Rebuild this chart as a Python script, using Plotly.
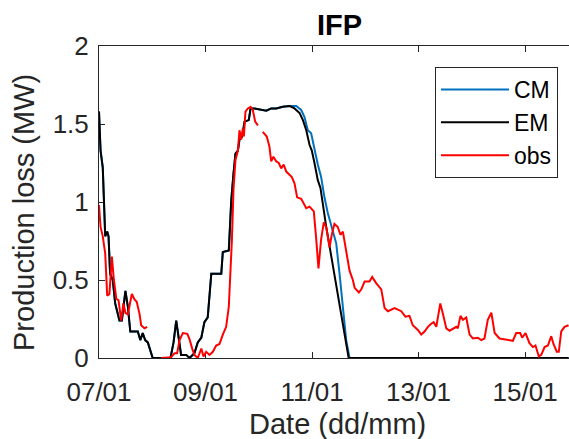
import plotly.graph_objects as go
import pandas as pd

BASE = pd.Timestamp("2018-01-07 00:00")

# hours since 07/01 00:00, production loss in MW
EM_HOURS = [0, 0.7, 1.7, 2.8, 3.7, 4.3, 5.0, 6.2, 7.3, 8.5, 9.2, 10.3, 11.9, 13.0, 14.1,
            17.5, 18.6, 19.7, 20.8, 22.0, 23.2, 24.2, 32.2, 33.6, 34.8, 35.8, 37.0, 39.3,
            40.8, 43.0, 44.5, 46.1, 47.5, 49.0, 49.8, 50.6, 55.1, 55.8, 58.5, 59.6, 60.6,
            61.5, 62.6, 63.3, 64.5, 65.6, 67.5, 68.3, 70.1, 72.3, 75.4, 77.6, 79.9, 82.8,
            85.9, 88.1, 90.4, 91.9, 93.4, 94.9, 95.9, 97.1, 98.6, 99.8, 100.9, 102.4,
            104.7, 106.9, 109.2, 111.4, 112.5, 211.6]
EM_MW = [1.58, 1.33, 1.22, 0.78, 0.81, 0.78, 0.54, 0.50, 0.35, 0.29, 0.24, 0.24, 0.43, 0.33,
         0.17, 0.17, 0.115, 0.16, 0.115, 0.10, 0.05, 0, 0, 0.10, 0.24, 0.14, 0.02, 0.02,
         0, 0.03, 0.10, 0.13, 0.23, 0.26, 0.41, 0.54, 0.54, 0.68, 0.69, 1.01, 1.18,
         1.31, 1.33, 1.40, 1.42, 1.515, 1.525, 1.60, 1.60, 1.595, 1.585, 1.60, 1.60, 1.61,
         1.615, 1.60, 1.57, 1.525, 1.46, 1.365, 1.33, 1.25, 1.14, 1.09, 0.98, 0.84,
         0.65, 0.46, 0.265, 0.07, 0, 0]

CM_HOURS = [0, 0.7, 1.7, 2.8, 3.7, 4.3, 5.0, 6.2, 7.3, 8.5, 9.2, 10.3, 11.9, 13.0, 14.1,
            17.5, 18.6, 19.7, 20.8, 22.0, 23.2, 24.2, 32.2, 33.6, 34.8, 35.8, 37.0, 39.3,
            40.8, 43.0, 44.5, 46.1, 47.5, 49.0, 49.8, 50.6, 55.1, 55.8, 58.5, 59.6, 60.6,
            61.5, 62.6, 63.3, 64.5, 65.6, 67.5, 68.3, 70.1, 72.3, 75.4, 77.6, 79.9, 82.8,
            85.9, 88.9, 91.1, 92.6, 94.1, 95.6, 97.1, 98.6, 100.1, 101.6, 103.1, 105.4,
            106.9, 108.4, 109.9, 111.4, 112.9, 211.6]
CM_MW = [1.58, 1.33, 1.22, 0.78, 0.81, 0.78, 0.54, 0.50, 0.35, 0.29, 0.24, 0.24, 0.43, 0.33,
         0.17, 0.17, 0.115, 0.16, 0.115, 0.10, 0.05, 0, 0, 0.10, 0.24, 0.14, 0.02, 0.02,
         0, 0.03, 0.10, 0.13, 0.23, 0.26, 0.41, 0.54, 0.54, 0.68, 0.69, 1.01, 1.18,
         1.31, 1.33, 1.40, 1.42, 1.515, 1.525, 1.60, 1.60, 1.595, 1.585, 1.60, 1.60, 1.61,
         1.615, 1.615, 1.59, 1.545, 1.46, 1.44, 1.33, 1.24, 1.16, 1.03, 0.93, 0.82,
         0.735, 0.54, 0.33, 0.115, 0, 0]

OBS_HOURS = [0, 0.7, 1.7, 2.8, 3.7, 4.7, 5.8, 6.7, 7.8, 8.8, 10.0, 11.0, 11.9, 13.0, 14.8,
             16.0, 17.0, 18.3, 19.0, 20.5, 21.7, 24.8,
             28.0, 32.5, 34.0, 35.2, 36.3, 37.8, 39.8, 40.8, 42.0, 43.0, 44.5, 46.1, 47.1,
             48.3, 49.8, 51.3, 52.8, 54.3, 55.8, 57.3, 58.5, 59.1, 59.9, 60.6, 61.5, 62.6,
             63.3, 64.1, 64.8, 65.3, 66.0, 67.1, 68.3, 69.3, 70.4, 71.6, 72.7,
             73.8, 75.6, 76.8, 77.6, 78.6, 79.9, 81.0, 82.1, 83.2, 84.4, 85.5, 86.9, 88.1,
             89.3, 91.1, 92.3, 93.4, 94.9, 96.8, 97.9, 98.9, 100.1, 101.3, 102.4, 103.9,
             104.9, 106.1, 107.6, 108.8, 109.9, 111.4, 112.9, 114.4, 115.2, 117.1, 118.2,
             119.7, 121.9, 123.1, 124.9, 127.2, 128.7, 130.2, 133.2, 136.2, 138.1, 139.9,
             141.4, 143.7, 145.2, 146.7, 148.2, 149.7, 150.8, 152.0, 153.8, 155.3, 156.5,
             158.0, 159.5, 161.0, 161.7, 162.9, 164.0, 165.5, 167.0, 168.5, 170.7, 172.3,
             173.7, 175.2, 176.8, 178.3, 180.5, 182.8, 186.5, 188.0, 189.8, 190.7, 192.2,
             194.0, 195.5, 196.7, 198.2, 199.3, 200.8, 202.3, 203.8, 204.8, 206.3, 207.2,
             208.3, 209.8, 211.6]
OBS_MW = [0.98, 0.84, 0.78, 0.67, 0.40, 0.41, 0.65, 0.50, 0.38, 0.37, 0.24, 0.35, 0.29, 0.28,
          0.41, 0.375, 0.36, 0.28, 0.21, 0.19, 0.20, None,
          0, 0.005, 0.03, 0.03, 0.115, 0.16, 0.155, 0.12, 0.06, 0.02, 0.0, 0.06, 0.01,
          0.04, 0.02, 0.04, 0.08, 0.09, 0.15, 0.20, 0.33, 0.50, 0.76, 1.08, 1.27, 1.33,
          1.46, 1.40, 1.47, 1.42, 1.58, 1.60, 1.61, 1.59, 1.515, 1.49, None,
          1.45, 1.42, 1.355, 1.26, 1.29, 1.26, 1.25, 1.215, 1.24, 1.195, 1.18, 1.16, 1.12,
          1.03, 1.02, 0.99, 0.96, 0.97, 0.94, 0.76, 0.575, 0.76, 0.87, 0.84, 0.71,
          0.79, 0.86, 0.84, 0.79, 0.81, 0.67, 0.56, 0.50, 0.45, 0.42, 0.44,
          0.49, 0.49, 0.52, 0.48, 0.44, 0.32, 0.30, 0.32, 0.30, 0.265, 0.27,
          0.21, 0.18, 0.15, 0.17, 0.20, 0.22, 0.23, 0.20, 0.35, 0.265, 0.19,
          0.175, 0.19, 0.20, 0.19, 0.27, 0.245, 0.26, 0.15, 0.125, 0.13, 0.115,
          0.125, 0.245, 0.29, 0.16, 0.125, 0.12, 0.11, 0.16, 0.16, 0.13, 0.16,
          0.095, 0.07, 0.08, 0.01, 0.02, 0.07, 0.08, 0.14, 0.09, 0.04, 0.04,
          0.17, 0.20, 0.21]

X_TICK_DATES = ["2018-01-07", "2018-01-09", "2018-01-11", "2018-01-13", "2018-01-15"]
X_TICK_LABELS = ["07/01", "09/01", "11/01", "13/01", "15/01"]
Y_TICKS = [0, 0.5, 1, 1.5, 2]
Y_TICK_LABELS = ["0", "0.5", "1", "1.5", "2"]
X_END_HOURS = 211.8


def to_dates(hours):
    return [BASE + pd.Timedelta(hours=h) for h in hours]


FONT = "Liberation Sans, Arial, Helvetica, sans-serif"
AXC = "#262626"

# plot area in pixels: left 99, right 569, top 46, bottom 358
PL, PR, PT, PB = 99, 569, 46, 358


def px_x(x):
    return (x - PL) / (PR - PL)


def px_y(y):
    return (PB - y) / (PB - PT)


fig = go.Figure()
fig.add_trace(go.Scatter(x=to_dates(CM_HOURS), y=CM_MW, mode="lines", name="CM",
                         line=dict(color="#0072BD", width=2)))
fig.add_trace(go.Scatter(x=to_dates(EM_HOURS), y=EM_MW, mode="lines", name="EM",
                         line=dict(color="#000000", width=2)))
fig.add_trace(go.Scatter(x=to_dates(OBS_HOURS), y=OBS_MW, mode="lines", name="obs",
                         line=dict(color="#FF0000", width=2), connectgaps=False))

fig.update_layout(
    width=569, height=439,
    margin=dict(l=PL, r=569 - PR, t=PT, b=439 - PB),
    paper_bgcolor="white", plot_bgcolor="white",
    font=dict(family=FONT, color=AXC),
    showlegend=True,
    legend=dict(x=px_x(558), xanchor="right", y=px_y(67), yanchor="top",
                bgcolor="white", bordercolor=AXC, borderwidth=1,
                font=dict(size=23, color="#000000"), itemwidth=68,
                tracegroupgap=0),
    xaxis=dict(type="date",
               range=[BASE, BASE + pd.Timedelta(hours=X_END_HOURS)],
               tickmode="array", tickvals=X_TICK_DATES, ticktext=X_TICK_LABELS,
               ticks="inside", ticklen=6, tickcolor=AXC, tickwidth=1,
               showline=True, linecolor=AXC, linewidth=1, mirror="allticks",
               showgrid=False, zeroline=False, layer="below traces",
               tickfont=dict(size=26, color=AXC), ticklabelstandoff=11),
    yaxis=dict(range=[0, 2], tickmode="array", tickvals=Y_TICKS, ticktext=Y_TICK_LABELS,
               ticks="inside", ticklen=6, tickcolor=AXC, tickwidth=1,
               showline=True, linecolor=AXC, linewidth=1, mirror=False,
               showgrid=False, zeroline=False, layer="below traces",
               tickfont=dict(size=26, color=AXC), ticklabelstandoff=4),
    annotations=[
        dict(text="<b>IFP</b>", x=px_x(339), y=px_y(25), xref="paper", yref="paper",
             showarrow=False, xanchor="center", yanchor="middle",
             font=dict(size=29, color="#000000")),
        dict(text="Date (dd/mm)", x=px_x(337), y=px_y(424), xref="paper", yref="paper",
             showarrow=False, xanchor="center", yanchor="middle",
             font=dict(size=29, color=AXC)),
        dict(text="Production loss (MW)", x=px_x(24), y=px_y(213),
             xref="paper", yref="paper", showarrow=False, textangle=-90,
             xanchor="center", yanchor="middle", font=dict(size=29, color=AXC)),
    ],
)

fig.write_html("out.html")
